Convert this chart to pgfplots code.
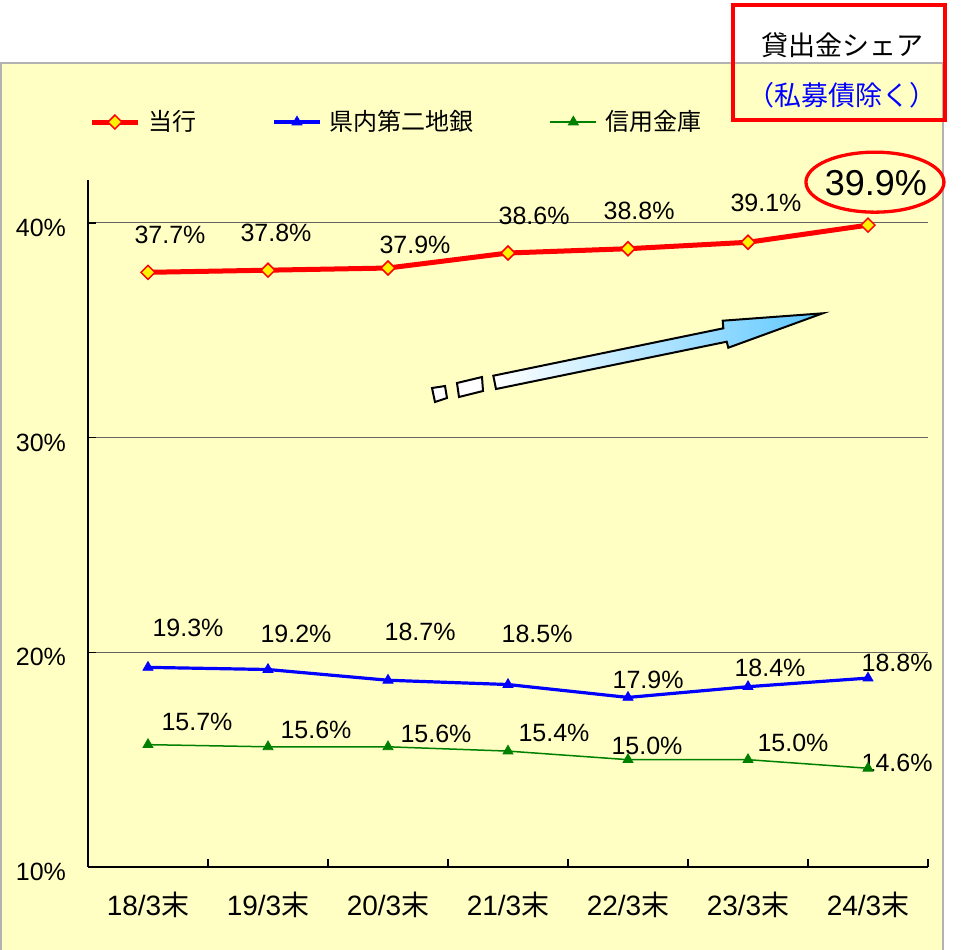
\documentclass[border=0pt]{standalone}
\usepackage{pgfplots}
\pgfplotsset{compat=1.18}
\usepackage{fontspec}
\setmainfont{Liberation Sans}
\newfontfamily\jp{Noto Sans CJK JP}
\definecolor{bgyellow}{RGB}{255,255,196}
\definecolor{linered}{RGB}{255,0,0}
\definecolor{lineblue}{RGB}{0,0,255}
\definecolor{linegreen}{RGB}{0,128,0}
\definecolor{sky}{RGB}{95,200,255}
\definecolor{gridgray}{RGB}{100,100,100}
\newcommand{\fs}[1]{\fontsize{#1}{#1}\selectfont}

\begin{document}
\begin{tikzpicture}
% page and yellow panel, 1px = 0.5pt
\begin{scope}[x=0.5pt,y=-0.5pt]
\path[use as bounding box] (0,0) rectangle (961,949);
\fill[white] (0,0) rectangle (961,949);
\draw[gray!60, fill=bgyellow, line width=0.75pt] (1,63) rectangle (943,952);
\end{scope}

\begin{axis}[
  at={(44pt,-433.5pt)}, anchor=south west,
  scale only axis, width=420pt, height=343.5pt,
  xmin=0, xmax=7, ymin=10, ymax=42,
  axis lines*=left,
  axis line style={black, line width=0.75pt},
  xtick={0,...,7}, x tick label as interval,
  xticklabels={18/3{\jp 末},19/3{\jp 末},20/3{\jp 末},21/3{\jp 末},22/3{\jp 末},23/3{\jp 末},24/3{\jp 末}},
  ytick={10,20,30,40}, yticklabels={10\%,20\%,30\%,40\%},
  ymajorgrids, grid style={gridgray, line width=0.5pt},
  major tick length=4pt, tick style={black, line width=0.6pt},
  tick align=inside,
  xticklabel style={font=\fs{14}, yshift=-9pt},
  yticklabel style={font=\fs{12.5}, xshift=-7.5pt, yshift=-2.5pt},
  clip=false,
  legend columns=3,
  legend style={at={(0.0012,1.0844)}, anchor=west, draw=none, fill=none,
    font=\jp\fs{12}, inner sep=0pt,
    /tikz/every odd column/.append style={column sep=2pt},
    /tikz/every even column/.append style={column sep=36pt}},
  legend image code/.code={\draw[mark repeat=2, mark phase=2] plot coordinates {(0pt,0pt)(11.5pt,0pt)(23pt,0pt)};},
]
\addplot[linered, line width=2.5pt, mark=square*, mark size=2.47pt,
  mark options={rotate=45, fill=yellow, draw=linered, line width=0.75pt}]
  coordinates {(0.5,37.7)(1.5,37.8)(2.5,37.9)(3.5,38.6)(4.5,38.8)(5.5,39.1)(6.5,39.9)};
\addplot[lineblue, line width=1.6pt, mark=triangle*, mark size=2.9pt,
  mark options={fill=lineblue, line width=0.4pt}]
  coordinates {(0.5,19.3)(1.5,19.2)(2.5,18.7)(3.5,18.5)(4.5,17.9)(5.5,18.4)(6.5,18.8)};
\addplot[linegreen, line width=0.75pt, mark=triangle*, mark size=2.9pt,
  mark options={fill=linegreen, line width=0.4pt}]
  coordinates {(0.5,15.7)(1.5,15.6)(2.5,15.6)(3.5,15.4)(4.5,15.0)(5.5,15.0)(6.5,14.6)};
\legend{当行,県内第二地銀,信用金庫}

% data labels
\begin{scope}[every node/.style={font=\fs{12.5}, inner sep=0pt}]
\node at (axis cs:0.683,39.44) {37.7\%};
\node at (axis cs:1.567,39.53) {37.8\%};
\node at (axis cs:2.725,38.98) {37.9\%};
\node at (axis cs:3.717,40.33) {38.6\%};
\node at (axis cs:4.592,40.56) {38.8\%};
\node at (axis cs:5.650,40.93) {39.1\%};
\node at (axis cs:0.833,21.12) {19.3\%};
\node at (axis cs:1.733,20.88) {19.2\%};
\node at (axis cs:2.767,20.93) {18.7\%};
\node at (axis cs:3.742,20.84) {18.5\%};
\node at (axis cs:4.667,18.70) {17.9\%};
\node at (axis cs:5.683,19.26) {18.4\%};
\node at (axis cs:6.742,19.53) {18.8\%};
\node at (axis cs:0.908,16.74) {15.7\%};
\node at (axis cs:1.900,16.37) {15.6\%};
\node at (axis cs:2.900,16.19) {15.6\%};
\node at (axis cs:3.883,16.23) {15.4\%};
\node at (axis cs:4.658,15.63) {15.0\%};
\node at (axis cs:5.875,15.77) {15.0\%};
\node at (axis cs:6.742,14.84) {14.6\%};
\end{scope}
\node[font=\fs{18}, inner sep=0pt] at (axis cs:6.565,41.86) {39.9\%};
\draw[linered, line width=1.65pt] (axis cs:6.558,41.90) ellipse [x radius=34.5pt, y radius=15pt];
\end{axis}

% arrow, title box
\begin{scope}[x=0.5pt,y=-0.5pt]
\shade[left color=white, right color=sky, draw=black, line width=1pt, line join=miter]
  (496,389) -- (493.3,375.7) -- (723.3,328.3) -- (722.7,320.7) -- (822.7,313.3)
  -- (728.3,347.7) -- (726.7,341.7) -- cycle;
\draw[fill=white, line width=1pt] (432,388) -- (445,386) -- (447,398) -- (435,402) -- cycle;
\draw[fill=white, line width=1pt] (457,383) -- (482,377) -- (483,391) -- (459,397) -- cycle;
\draw[linered, line width=2pt] (733,5) rectangle (945,120);
\node[font=\jp\fs{13.5}] at (842,45) {貸出金シェア};
\node[font=\jp\fs{13.5}, text=lineblue] at (842,95) {（私募債除く）};
\end{scope}
\end{tikzpicture}
\end{document}
